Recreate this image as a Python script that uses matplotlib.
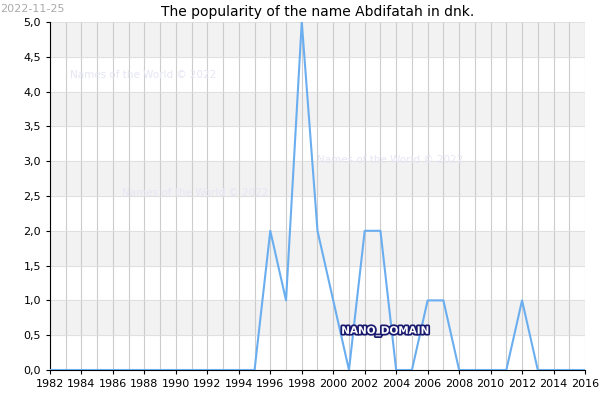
import matplotlib
matplotlib.use("Agg")
import matplotlib.pyplot as plt
import matplotlib.patheffects as pe

years = list(range(1982, 2017))
values = [0]*13 + [0, 2, 1, 5, 2, 1, 0, 2, 2, 0, 0, 1, 1, 0, 0, 0, 0, 1, 0, 0, 0, 0]
values = values[:len(years)]
yticks = [i*0.5 for i in range(11)]
xticks = list(range(1982, 2017, 2))

fig = plt.figure(figsize=(6, 4), dpi=100)
ax = fig.add_axes([50/600, 30/400, 535/600, 348/400])
for i in range(10):
    lo = i*0.5
    if i % 2 == 1:
        ax.axhspan(lo, lo+0.5, color="#f2f2f2", zorder=0)
for y in years:
    ax.axvline(y, color="#cccccc", lw=0.8, zorder=1)
for t in yticks:
    ax.axhline(t, color="#dddddd", lw=0.6, zorder=1)
ax.plot(years, values, color="#6aaef0", lw=1.5, zorder=3)
ax.set_xlim(1982, 2016)
ax.set_ylim(0, 5)
ax.set_xticks(xticks)
ax.set_xticklabels([str(x) for x in xticks], fontsize=8)
ax.set_yticks(yticks)
ax.set_yticklabels([f"{t:.1f}".replace(".", ",") for t in yticks], fontsize=8)
for s in ax.spines.values():
    s.set_visible(False)
ax.spines["bottom"].set_visible(True)
ax.spines["left"].set_visible(True)
ax.tick_params(length=3)
ax.set_title("The popularity of the name Abdifatah in dnk.", fontsize=10, pad=4)
fig.text(0.0, 0.99, "2022-11-25", fontsize=8, color="#aaaaaa", va="top")
wm = dict(fontsize=7.5, color="#e6e6f5", zorder=2)
ax.text(1983.3, 4.2, "Names of the World © 2022", **wm)
ax.text(1986.6, 2.5, "Names of the World © 2022", **wm)
ax.text(1999.0, 2.98, "Names of the World © 2022", **wm)
ax.text(2003.3, 0.52, "NANO_DOMAIN", fontsize=7.5, color="white", ha="center",
        weight="bold", zorder=4,
        path_effects=[pe.withStroke(linewidth=2.5, foreground="#1a1a6e")])
fig.savefig("out.png")
